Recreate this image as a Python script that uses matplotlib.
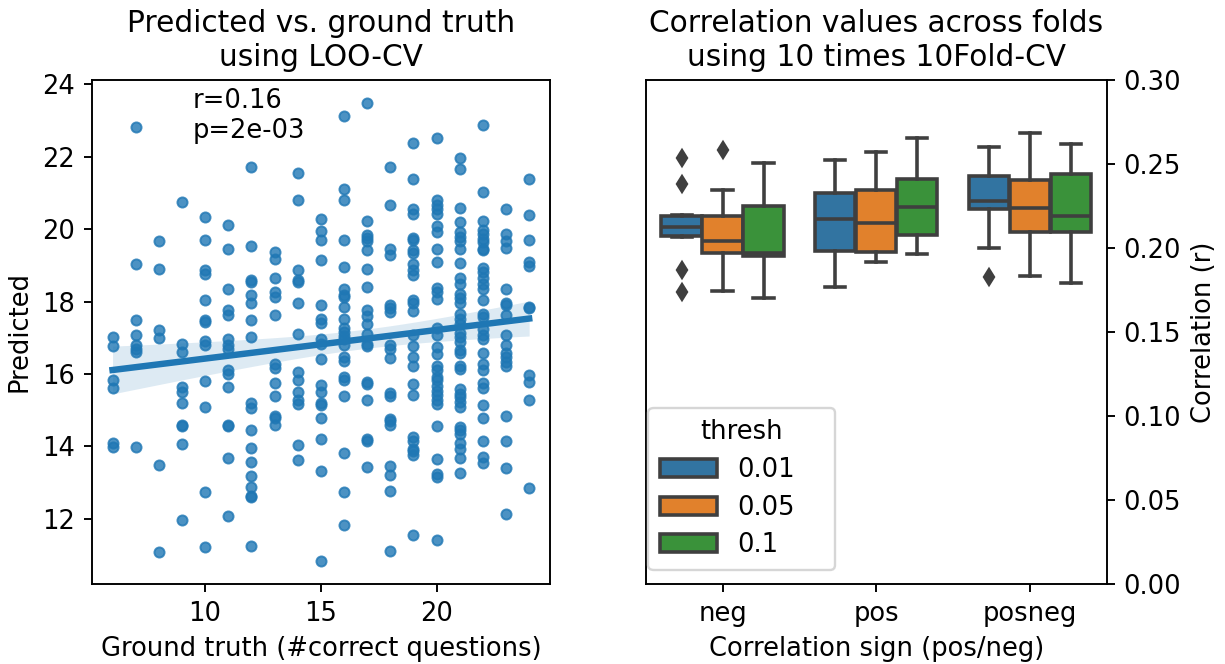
import numpy as np
import matplotlib
matplotlib.use("Agg")
import matplotlib.pyplot as plt
from matplotlib.patches import Patch

# ---------------- data: left panel (LOO-CV predictions) ----------------
truth_levels = list(range(6, 25))
predicted_by_truth = [
    [17.03, 16.76, 15.82, 15.62, 14.09, 13.98],
    [22.82, 19.03, 17.48, 17.09, 16.79, 16.69, 16.60, 13.98],
    [19.67, 18.89, 17.21, 17.00, 13.49, 11.08],
    [20.75, 16.83, 16.60, 15.65, 15.50, 15.19, 14.60, 14.55, 14.07, 11.97],
    [20.34, 19.71, 18.86, 18.77, 18.04, 17.48, 17.44, 16.92, 16.79, 15.80, 15.08, 12.75, 11.22],
    [20.11, 19.44, 18.36, 17.76, 17.62, 16.97, 16.79, 16.69, 16.10, 16.00, 15.65, 14.58, 14.55, 13.67, 12.07],
    [21.72, 19.53, 18.59, 18.54, 18.19, 17.97, 17.48, 17.03, 15.19, 15.07, 14.44, 13.96, 13.56, 13.17, 12.87, 12.64, 12.60, 11.24],
    [19.37, 19.19, 18.64, 18.27, 18.13, 17.62, 16.28, 16.17, 15.75, 15.38, 14.85, 14.79, 14.58],
    [21.55, 20.82, 18.88, 18.59, 18.53, 17.96, 17.11, 16.05, 15.84, 15.50, 15.27, 15.16, 14.04, 13.63],
    [20.27, 19.95, 19.69, 19.14, 17.90, 17.51, 17.42, 16.97, 16.83, 16.42, 15.70, 15.50, 15.19, 15.13, 14.79, 14.19, 13.31, 10.83],
    [23.12, 21.12, 20.82, 19.69, 18.96, 18.36, 18.17, 18.13, 17.85, 17.51, 17.26, 17.16, 17.06, 16.97, 16.79, 16.46, 16.37, 15.91, 15.84, 15.38, 13.82, 12.75, 11.82],
    [23.49, 20.22, 19.85, 19.76, 19.67, 19.42, 18.91, 18.41, 17.78, 17.61, 17.39, 17.10, 16.83, 16.76, 15.77, 15.73, 15.29, 14.21, 14.14, 13.44],
    [21.72, 20.68, 19.46, 19.28, 17.90, 17.81, 17.72, 16.79, 16.69, 16.44, 15.47, 15.40, 14.76, 14.70, 14.60, 13.47, 13.22, 12.78, 11.11],
    [22.38, 21.40, 20.57, 20.43, 19.76, 19.69, 19.42, 19.33, 19.05, 18.86, 18.73, 18.04, 17.95, 17.74, 17.09, 16.76, 16.46, 16.21, 15.73, 15.43, 14.27, 14.16, 13.93, 13.87, 13.75, 11.54],
    [22.52, 20.80, 20.68, 20.55, 20.43, 20.08, 19.91, 19.46, 19.10, 18.38, 18.27, 18.08, 17.27, 17.07, 16.74, 16.54, 16.21, 16.10, 15.93, 15.84, 15.68, 15.54, 15.41, 15.27, 15.16, 14.55, 13.66, 13.24, 13.15, 11.40],
    [21.97, 21.67, 20.59, 20.20, 19.91, 19.79, 19.68, 19.44, 19.08, 18.64, 18.50, 18.22, 18.10, 17.97, 17.67, 17.53, 17.39, 17.12, 17.01, 16.88, 16.65, 16.57, 16.23, 16.14, 15.59, 15.45, 15.36, 15.22, 15.10, 14.53, 14.44, 14.35, 14.09, 13.93, 13.67, 13.27],
    [22.89, 21.03, 20.22, 19.97, 19.88, 19.74, 19.65, 19.46, 19.42, 18.93, 18.82, 18.64, 18.50, 18.36, 18.04, 17.67, 17.58, 17.24, 17.07, 16.97, 16.57, 16.28, 16.10, 15.75, 15.62, 15.13, 14.79, 14.14, 13.70, 13.54],
    [20.57, 19.88, 19.67, 19.48, 18.34, 17.97, 17.90, 17.62, 17.09, 16.79, 16.57, 16.48, 16.32, 16.23, 14.83, 14.14, 13.41, 12.12],
    [21.40, 20.40, 19.71, 19.10, 18.99, 17.85, 17.82, 15.96, 15.77, 15.29, 12.86],
]
stat_text = "r=0.16\np=2e-03"

# ---------------- data: right panel (10x10-fold CV correlations) ----------------
signs = ["neg", "pos", "posneg"]
thresholds = ["0.01", "0.05", "0.1"]
# per threshold, one value per sign
q1 = {"0.01": [0.2071, 0.1984, 0.2232], "0.05": [0.1968, 0.1978, 0.2093], "0.1": [0.1954, 0.2077, 0.2093]}
med = {"0.01": [0.2127, 0.2173, 0.2280], "0.05": [0.2042, 0.2147, 0.2240], "0.1": [0.1968, 0.2246, 0.2190]}
q3 = {"0.01": [0.2190, 0.2329, 0.2429], "0.05": [0.2192, 0.2343, 0.2405], "0.1": [0.2250, 0.2409, 0.2440]}
whislo = {"0.01": [0.2064, 0.1770, 0.1998], "0.05": [0.1744, 0.1918, 0.1835], "0.1": [0.1704, 0.1964, 0.1790]}
whishi = {"0.01": [0.2196, 0.2524, 0.2599], "0.05": [0.2343, 0.2570, 0.2686], "0.1": [0.2508, 0.2653, 0.2619]}
fliers = {"0.01": [[0.2534, 0.2381, 0.1869, 0.1736], [], [0.1829]],
          "0.05": [[0.2583], [], []],
          "0.1": [[], [], []]}

palette = ["#3274a1", "#e1812c", "#3a923a"]
gray = "#3f3f3f"
pt_color = "#1f77b4"

FS = 10.8
plt.rcParams["font.size"] = FS

# ---------------- figure ----------------
DPI = 172
fig = plt.figure(figsize=(1225 / DPI, 664 / DPI), dpi=DPI)
ax1 = fig.add_axes([91.7 / 1225, 80 / 664, (550 - 91.7) / 1225, 504 / 664])
ax2 = fig.add_axes([645.7 / 1225, 80 / 664, (1106.7 - 645.7) / 1225, 504 / 664])

# left: scatter + regression
x = np.concatenate([[t] * len(v) for t, v in zip(truth_levels, predicted_by_truth)]).astype(float)
y = np.concatenate(predicted_by_truth)
ax1.scatter(x, y, s=18, color=pt_color, alpha=0.8, linewidths=0.8, zorder=2)
slope, intercept = np.polyfit(x, y, 1)
xg = np.linspace(x.min(), x.max(), 100)
yg = intercept + slope * xg
n = len(x)
resid = y - (intercept + slope * x)
s_err = np.sqrt(np.sum(resid ** 2) / (n - 2))
se = s_err * np.sqrt(1 / n + (xg - x.mean()) ** 2 / np.sum((x - x.mean()) ** 2))
ax1.fill_between(xg, yg - 1.97 * se, yg + 1.97 * se, color=pt_color, alpha=0.15, linewidth=0, zorder=1)
ax1.plot(xg, yg, color=pt_color, linewidth=2.7, zorder=3)
xr = x.max() - x.min()
yr = y.max() - y.min()
ax1.set_xlim(x.min() - 0.05 * xr, x.max() + 0.05 * xr)
ax1.set_ylim(y.min() - 0.05 * yr, y.max() + 0.05 * yr)
ax1.set_xticks([10, 15, 20])
ax1.set_yticks([12, 14, 16, 18, 20, 22, 24])
ax1.text(0.221, 0.985, stat_text, transform=ax1.transAxes, ha="left", va="top", fontsize=FS)
ax1.set_title("Predicted vs. ground truth\nusing LOO-CV", fontsize=12.4)
ax1.set_xlabel("Ground truth (#correct questions)")
ax1.set_ylabel("Predicted")

# right: grouped boxplots
width = 0.8
each = width / len(thresholds)
offsets = np.linspace(0, width - each, len(thresholds)) - (width - each) / 2
for j, th in enumerate(thresholds):
    stats = []
    for i, sg in enumerate(signs):
        stats.append(dict(med=med[th][i], q1=q1[th][i], q3=q3[th][i],
                          whislo=whislo[th][i], whishi=whishi[th][i],
                          fliers=fliers[th][i], label=sg))
    pos = [i + offsets[j] for i in range(len(signs))]
    ax2.bxp(stats, positions=pos, widths=each * 0.98, patch_artist=True, showfliers=True,
            boxprops=dict(facecolor=palette[j], edgecolor=gray, linewidth=1.5),
            whiskerprops=dict(color=gray, linewidth=1.5),
            capprops=dict(color=gray, linewidth=1.5),
            medianprops=dict(color=gray, linewidth=1.5),
            flierprops=dict(marker="d", markerfacecolor=gray, markeredgecolor=gray,
                            markersize=5, linestyle="none"),
            manage_ticks=False)
ax2.set_xlim(-0.5, len(signs) - 0.5)
ax2.set_xticks(range(len(signs)))
ax2.set_xticklabels(signs)
ax2.set_ylim(0, 0.30)
ax2.set_yticks([0.0, 0.05, 0.10, 0.15, 0.20, 0.25, 0.30])
ax2.set_yticklabels(["0.00", "0.05", "0.10", "0.15", "0.20", "0.25", "0.30"])
ax2.yaxis.tick_right()
ax2.yaxis.set_label_position("right")
ax2.set_ylabel("Correlation (r)")
ax2.set_xlabel("Correlation sign (pos/neg)")
ax2.set_title("Correlation values across folds\nusing 10 times 10Fold-CV", fontsize=12.4)
handles = [Patch(facecolor=c, edgecolor=gray, linewidth=1.5, label=t) for c, t in zip(palette, thresholds)]
ax2.legend(handles=handles, title="thresh", loc="lower left", fontsize=10.8, title_fontsize=10.8,
           handlelength=2.2, borderpad=0.45, labelspacing=0.45, borderaxespad=0.0,
           bbox_to_anchor=(0.006, 0.028, 0.405, 0.3), mode="expand")

fig.savefig("out.png", dpi=DPI)
